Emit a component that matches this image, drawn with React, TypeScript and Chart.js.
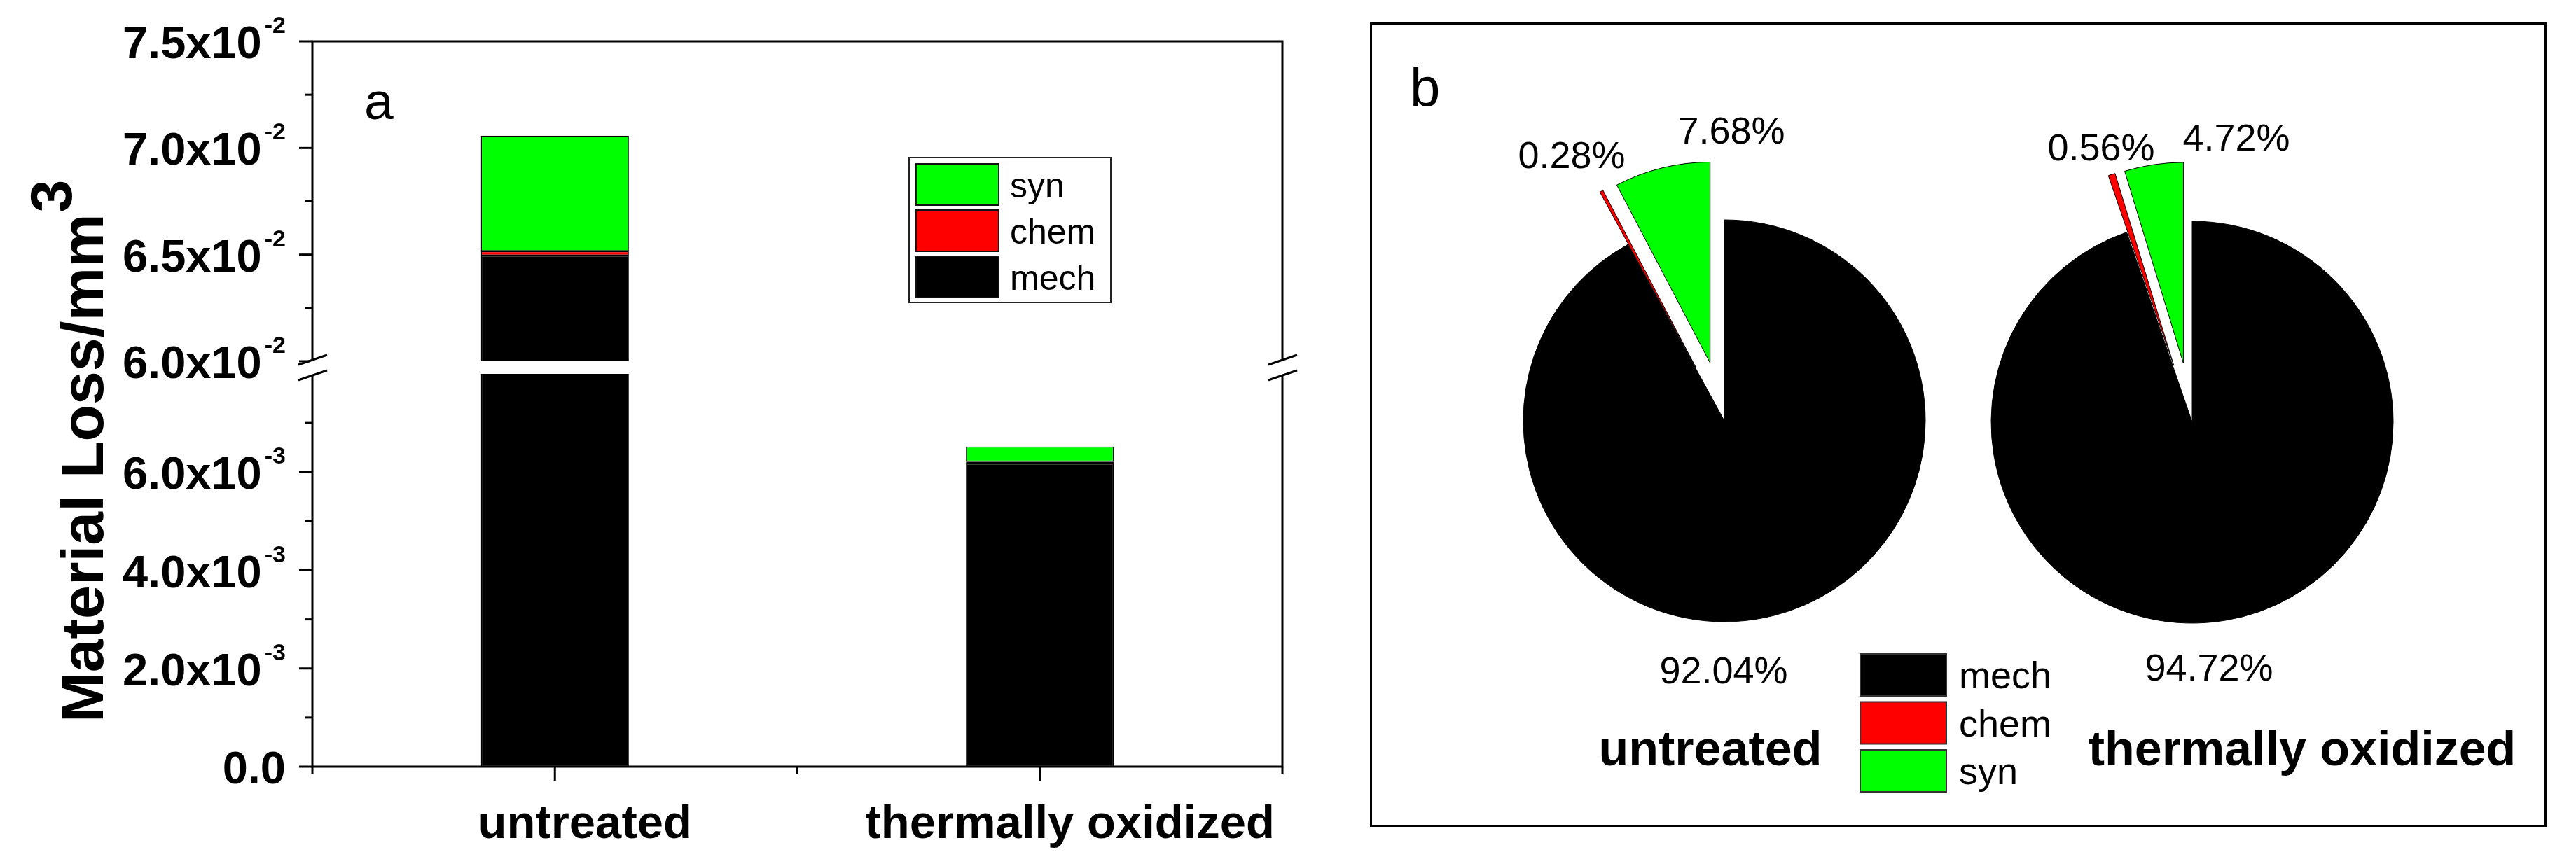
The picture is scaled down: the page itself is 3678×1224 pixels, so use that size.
import { useEffect, useRef } from 'react';
import { Chart, registerables } from 'chart.js';

Chart.register(...registerables);

const W = 3678;
const H = 1224;
const SANS = '"Liberation Sans", Arial, sans-serif';

// data
const samples = ['untreated', 'thermally oxidized'];
const seriesNames = ['mech', 'chem', 'syn'];
const seriesColors = ['#000000', '#ff0000', '#00ff00'];
// material loss, mm^3
const mechLoss = [0.06496, 0.006176];
const chemLoss = [0.000198, 0.0000365];
const synLoss = [0.00542, 0.000308];
// shares, %
const untreatedShare = [92.04, 0.28, 7.68];
const oxidizedShare = [94.72, 0.56, 4.72];
// y axis (broken)
const upperTicks = [0.06, 0.065, 0.07, 0.075];
const lowerTicks = [0, 0.002, 0.004, 0.006];
const upperRange = [0.06, 0.075];
const lowerRange = [0, 0.008];

function seg(ctx, x1, y1, x2, y2) {
  ctx.beginPath();
  ctx.moveTo(x1, y1);
  ctx.lineTo(x2, y2);
  ctx.stroke();
}

function sci(v) {
  if (v === 0) return ['0.0', ''];
  const e = Math.floor(Math.log10(v) + 1e-9);
  return [(v / Math.pow(10, e)).toFixed(1) + 'x10', String(e)];
}

const barDecor = {
  id: 'barDecor',
  beforeDatasetDraw(chart, args) {
    const y = chart.scales[args.meta.yAxisID];
    const a = chart.chartArea;
    const ctx = chart.ctx;
    ctx.save();
    ctx.beginPath();
    ctx.rect(a.left, y.top, a.right - a.left, y.bottom - y.top);
    ctx.clip();
  },
  afterDatasetDraw(chart) {
    chart.ctx.restore();
  },
  afterDraw(chart) {
    const { ctx, chartArea: a, scales } = chart;
    const up = scales.yUp;
    const low = scales.yLow;
    const x = scales.x;
    ctx.save();
    ctx.strokeStyle = '#000';
    ctx.fillStyle = '#000';
    ctx.lineWidth = 3;
    ctx.strokeRect(a.left, a.top, a.right - a.left, a.bottom - a.top);

    // y ticks
    const yTicks = (scale, ticks) => {
      ticks.forEach((v, i) => {
        const py = scale.getPixelForValue(v);
        seg(ctx, a.left - 19, py, a.left, py);
        if (i < ticks.length - 1) {
          const my = scale.getPixelForValue((v + ticks[i + 1]) / 2);
          seg(ctx, a.left - 10, my, a.left, my);
        }
      });
    };
    yTicks(up, upperTicks);
    yTicks(low, lowerTicks);
    const lastLow = lowerTicks[lowerTicks.length - 1];
    const m7 = low.getPixelForValue(lastLow + (lowerTicks[1] - lowerTicks[0]) / 2);
    seg(ctx, a.left - 10, m7, a.left, m7);

    // x ticks
    samples.forEach((_, i) => {
      const px = x.getPixelForValue(i);
      seg(ctx, px, a.bottom, px, a.bottom + 20);
    });
    const step = (a.right - a.left) / samples.length;
    for (let k = 0; k <= samples.length; k++) {
      const px = a.left + k * step;
      seg(ctx, px, a.bottom, px, a.bottom + 11);
    }

    // axis breaks
    const yb = (up.bottom + low.top) / 2;
    [a.left, a.right].forEach((ax) => {
      ctx.fillStyle = '#fff';
      ctx.fillRect(ax - 4, yb - 11, 8, 22);
      ctx.fillStyle = '#000';
      seg(ctx, ax - 20, yb - 11 + 7, ax + 21, yb - 11 - 7);
      seg(ctx, ax - 20, yb + 11 + 7, ax + 21, yb + 11 - 7);
    });

    // tick labels
    const right = a.left - 38;
    const label = (scale, v) => {
      const py = scale.getPixelForValue(v);
      const [main, exp] = sci(v);
      ctx.textAlign = 'right';
      ctx.textBaseline = 'alphabetic';
      ctx.font = `bold 34px ${SANS}`;
      const ew = exp ? ctx.measureText(exp).width + 4 : 0;
      if (exp) ctx.fillText(exp, right, py - 12);
      ctx.font = `bold 65px ${SANS}`;
      ctx.fillText(main, right - ew, py + 24);
    };
    upperTicks.forEach((v) => label(up, v));
    lowerTicks.forEach((v) => label(low, v));

    // axis title
    ctx.save();
    ctx.translate(147, 1032);
    ctx.rotate(-Math.PI / 2);
    ctx.textAlign = 'left';
    ctx.font = `bold 86px ${SANS}`;
    const tw = ctx.measureText('Material Loss/mm').width;
    ctx.fillText('Material Loss/mm', 0, 0);
    ctx.font = `bold 84px ${SANS}`;
    ctx.fillText('3', tw + 2, -45);
    ctx.restore();

    // category labels
    ctx.textAlign = 'center';
    ctx.font = `bold 67px ${SANS}`;
    samples.forEach((s, i) => {
      ctx.fillText(s, x.getPixelForValue(i) + 43, a.bottom + 102);
    });

    // panel letter
    ctx.textAlign = 'left';
    ctx.font = `75px ${SANS}`;
    ctx.fillText('a', 520, 170);

    // legend
    ctx.lineWidth = 2;
    ctx.strokeStyle = '#222';
    ctx.strokeRect(1298, 225, 288, 207);
    ctx.font = `50px ${SANS}`;
    const order = [2, 1, 0];
    order.forEach((si, r) => {
      const top = 234 + r * 66;
      ctx.fillStyle = seriesColors[si];
      ctx.fillRect(1308, top, 118, 59);
      ctx.strokeStyle = '#111';
      ctx.strokeRect(1308, top, 118, 59);
      ctx.fillStyle = '#000';
      ctx.fillText(seriesNames[si], 1442, top + 29.5 + 18);
    });
    ctx.restore();
  },
};

function makeExplode(dist) {
  return {
    id: 'explode',
    beforeDatasetsDraw(chart) {
      chart.getDatasetMeta(0).data.forEach((arc, i) => {
        if (arc._wrapped) return;
        const base = arc.draw;
        arc.draw = function (ctx, area) {
          const mid = (this.startAngle + this.endAngle) / 2;
          ctx.save();
          ctx.translate(Math.cos(mid) * dist[i], Math.sin(mid) * dist[i]);
          base.call(this, ctx, area);
          ctx.restore();
        };
        arc._wrapped = true;
      });
    },
  };
}

function makePieText(shares, spots, name, nameSpot, withLegend) {
  return {
    id: 'pieText',
    afterDraw(chart) {
      const ctx = chart.ctx;
      const c = chart.getDatasetMeta(0).data[0];
      ctx.save();
      ctx.fillStyle = '#000';
      ctx.textAlign = 'center';
      ctx.textBaseline = 'alphabetic';
      ctx.font = `54px ${SANS}`;
      shares.forEach((v, i) => {
        ctx.fillText(v.toFixed(2) + '%', c.x + spots[i][0], c.y + spots[i][1]);
      });
      ctx.font = `bold 70px ${SANS}`;
      ctx.fillText(name, c.x + nameSpot[0], c.y + nameSpot[1]);
      if (withLegend) {
        ctx.textAlign = 'left';
        ctx.font = `78px ${SANS}`;
        ctx.fillText('b', 2013, 152);
        ctx.font = `54px ${SANS}`;
        ctx.lineWidth = 2;
        ctx.strokeStyle = '#333';
        seriesNames.forEach((s, i) => {
          const top = 934 + i * 68.5;
          ctx.fillStyle = seriesColors[i];
          ctx.fillRect(2656, top, 123, 60);
          ctx.strokeRect(2656, top, 123, 60);
          ctx.fillStyle = '#000';
          ctx.fillText(s, 2797, top + 30 + 19);
        });
      }
      ctx.restore();
    },
  };
}

function pieConfig(shares, cx, cy, plugins) {
  return {
    type: 'pie',
    data: {
      labels: seriesNames,
      datasets: [
        {
          data: shares,
          backgroundColor: seriesColors,
          borderColor: '#000',
          borderWidth: 1,
          radius: 287,
          clip: false,
        },
      ],
    },
    options: {
      animation: false,
      responsive: false,
      devicePixelRatio: 1,
      events: [],
      radius: 287,
      layout: { padding: { left: cx - 400, right: W - cx - 400, top: cy - 400, bottom: H - cy - 400 } },
      plugins: { legend: { display: false }, tooltip: { enabled: false } },
    },
    plugins,
  };
}

export default function App() {
  const barRef = useRef(null);
  const pie1Ref = useRef(null);
  const pie2Ref = useRef(null);

  useEffect(() => {
    const hidden = {
      grid: { display: false, drawTicks: false },
      border: { display: false },
      ticks: { display: false },
    };
    const losses = [mechLoss, chemLoss, synLoss];
    const datasets = [];
    ['yUp', 'yLow'].forEach((axis) => {
      losses.forEach((vals, i) => {
        datasets.push({
          label: seriesNames[i],
          data: vals,
          yAxisID: axis,
          backgroundColor: seriesColors[i],
          borderColor: '#000',
          borderWidth: 1.5,
          borderSkipped: false,
          barPercentage: 0.305,
          categoryPercentage: 1,
          clip: false,
        });
      });
    });

    const bar = new Chart(barRef.current.getContext('2d'), {
      type: 'bar',
      data: { labels: samples, datasets },
      options: {
        animation: false,
        responsive: false,
        devicePixelRatio: 1,
        events: [],
        layout: { padding: { left: 446, top: 59, right: W - 1831, bottom: H - 1095 } },
        plugins: { legend: { display: false }, tooltip: { enabled: false } },
        scales: {
          x: { type: 'category', offset: true, stacked: true, ...hidden },
          yUp: {
            type: 'linear', position: 'left', stack: 'y', stackWeight: 457, weight: 3,
            stacked: true, min: upperRange[0], max: upperRange[1], ...hidden,
          },
          yGap: {
            type: 'linear', position: 'left', stack: 'y', stackWeight: 18, weight: 2,
            min: 0, max: 1, ...hidden,
          },
          yLow: {
            type: 'linear', position: 'left', stack: 'y', stackWeight: 561, weight: 1,
            stacked: true, min: lowerRange[0], max: lowerRange[1], ...hidden,
          },
        },
      },
      plugins: [barDecor],
    });

    const pie1 = new Chart(
      pie1Ref.current.getContext('2d'),
      pieConfig(untreatedShare, 2462, 601, [
        makeExplode([0, 85, 85]),
        makePieText(untreatedShare, [[-1, 375], [-218, -361], [10, -396]], samples[0], [-20, 492], true),
      ])
    );
    const pie2 = new Chart(
      pie2Ref.current.getContext('2d'),
      pieConfig(oxidizedShare, 3130, 603, [
        makeExplode([0, 85, 85]),
        makePieText(oxidizedShare, [[24, 369], [-130, -374], [63, -388]], samples[1], [157, 490], false),
      ])
    );

    return () => {
      bar.destroy();
      pie1.destroy();
      pie2.destroy();
    };
  }, []);

  const layer = { position: 'absolute', left: 0, top: 0, width: W, height: H };
  return (
    <div style={{ position: 'fixed', left: 0, top: 0, width: W, height: H, background: '#fff' }}>
      <div
        style={{
          position: 'absolute', left: 1955.5, top: 31.5, width: 1680, height: 1149,
          boxSizing: 'border-box', border: '3px solid #000',
        }}
      />
      <canvas ref={barRef} width={W} height={H} style={layer} />
      <canvas ref={pie1Ref} width={W} height={H} style={layer} />
      <canvas ref={pie2Ref} width={W} height={H} style={layer} />
    </div>
  );
}
